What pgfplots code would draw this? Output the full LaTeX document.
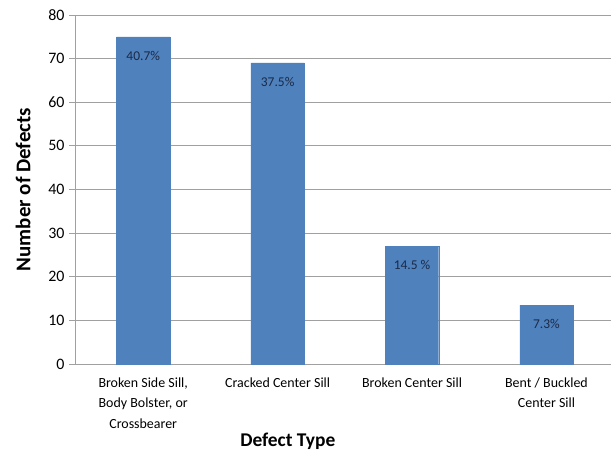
\documentclass[border=0pt]{standalone}
\usepackage{fontspec}
\setmainfont{Carlito}
\usepackage{pgfplots}
\pgfplotsset{compat=1.18}
\definecolor{barblue}{HTML}{4F81BD}
\definecolor{gridgray}{HTML}{A0A0A0}
\definecolor{labnavy}{HTML}{1B2A47}

\begin{document}
\begin{tikzpicture}
\begin{axis}[
    scale only axis,
    width=535bp, height=349bp,
    ymin=0, ymax=80,
    ytick={0,10,...,80},
    xmin=-0.5, xmax=3.48,
    xtick={0,1,2,3},
    xticklabels={{Broken Side Sill,\\Body Bolster, or\\Crossbearer},
                 Cracked Center Sill, Broken Center Sill,
                 {Bent / Buckled\\Center Sill}},
    xticklabel style={align=center, font=\fontsize{14}{20.5}\selectfont, yshift=-3bp},
    yticklabel style={font=\fontsize{16}{18}\selectfont, xshift=-1bp},
    /pgf/number format/assume math mode=true,
    axis x line*=bottom, axis y line*=left,
    axis line style={gridgray, line width=1bp},
    ymajorgrids,
    grid style={gridgray, line width=1bp},
    xtick style={draw=none},
    ytick style={gridgray, line width=1bp},
    tick align=outside,
    major tick length=7bp,
    every axis y label/.style={at={(axis description cs:-0.099,0.5)}, rotate=90, anchor=center,
        font=\fontsize{21}{24}\selectfont\bfseries},
    every axis x label/.style={at={(axis description cs:0.396,-0.2206)}, anchor=center,
        font=\fontsize{19.5}{22}\selectfont\bfseries},
    ylabel={Number of Defects},
    xlabel={Defect Type},
    ybar, bar width=53.3bp,
    point meta=explicit symbolic,
    nodes near coords,
    every node near coord/.append style={anchor=center, yshift=-19bp, text=labnavy,
        font=\fontsize{13.5}{16}\selectfont},
]
\addplot[fill=barblue, draw=barblue] coordinates {
    (0,75) [40.7\%]
    (1,69) [37.5\%]
    (2,27) [14.5 \%]
    (3,13.5) [7.3\%]
};
\end{axis}
\pgfresetboundingbox
\path (-76bp,-89bp) rectangle (535bp,364bp);
\end{tikzpicture}
\end{document}
